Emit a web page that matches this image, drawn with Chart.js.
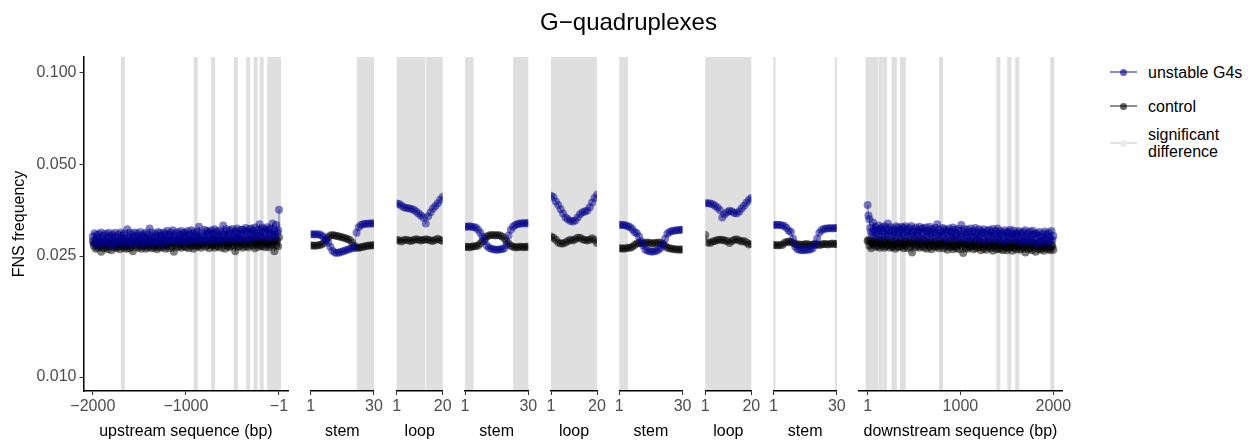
<!DOCTYPE html>
<html>
<head>
<meta charset="utf-8">
<title>G-quadruplexes</title>
<script src="https://cdn.jsdelivr.net/npm/chart.js@4.4.0/dist/chart.umd.min.js"></script>
<style>
  html, body { margin: 0; padding: 0; background: #ffffff; }
  #wrap { position: relative; width: 1257px; height: 445px; overflow: hidden; background: #ffffff;
          font-family: "Liberation Sans", Arial, Helvetica, sans-serif; }
  #wrap canvas { position: absolute; top: 0; }
  #title { position: absolute; left: 0; top: 8px; width: 1257px; text-align: center;
           font-size: 24px; line-height: 28px; color: #000; z-index: 5; }
  .key-line { position: absolute; height: 1.5px; width: 27px; left: 1110px; z-index: 5; }
  .key-dot { position: absolute; width: 7px; height: 7px; border-radius: 50%; left: 1120px; z-index: 6; }
  .key-text { position: absolute; left: 1148px; font-size: 16px; line-height: 17px; color: #000; z-index: 5; white-space: nowrap; }
</style>
</head>
<body>
<div id="wrap">
  <div id="title">G−quadruplexes</div>

  <div class="key-line" style="top:71.25px;background:rgba(0,0,139,0.45)"></div>
  <div class="key-dot" style="top:68.5px;background:rgba(0,0,139,0.62)"></div>
  <div class="key-text" style="top:63.5px">unstable G4s</div>

  <div class="key-line" style="top:105.25px;background:rgba(0,0,0,0.45)"></div>
  <div class="key-dot" style="top:102.5px;background:rgba(0,0,0,0.62)"></div>
  <div class="key-text" style="top:97.5px">control</div>

  <div class="key-line" style="top:142.25px;background:#e2e2e2"></div>
  <div class="key-dot" style="top:139.5px;background:#ebebeb"></div>
  <div class="key-text" style="top:125.5px">significant<br>difference</div>
</div>

<script>
// ---------- positions (bp) ----------
const upstreamPos = [
  -2000,-1990,-1980,-1970,-1960,-1950,-1940,-1930,-1920,-1910,-1900,-1890,-1880,-1870,-1860,-1850,-1840,-1830,-1820,-1810,
  -1800,-1790,-1780,-1770,-1760,-1750,-1740,-1730,-1720,-1710,-1700,-1690,-1680,-1670,-1660,-1650,-1640,-1630,-1620,-1610,
  -1600,-1590,-1580,-1570,-1560,-1550,-1540,-1530,-1520,-1510,-1500,-1490,-1480,-1470,-1460,-1450,-1440,-1430,-1420,-1410,
  -1400,-1390,-1380,-1370,-1360,-1350,-1340,-1330,-1320,-1310,-1300,-1290,-1280,-1270,-1260,-1250,-1240,-1230,-1220,-1210,
  -1200,-1190,-1180,-1170,-1160,-1150,-1140,-1130,-1120,-1110,-1100,-1090,-1080,-1070,-1060,-1050,-1040,-1030,-1020,-1010,
  -1000,-990,-980,-970,-960,-950,-940,-930,-920,-910,-900,-890,-880,-870,-860,-850,-840,-830,-820,-810,
  -800,-790,-780,-770,-760,-750,-740,-730,-720,-710,-700,-690,-680,-670,-660,-650,-640,-630,-620,-610,
  -600,-590,-580,-570,-560,-550,-540,-530,-520,-510,-500,-490,-480,-470,-460,-450,-440,-430,-420,-410,
  -400,-390,-380,-370,-360,-350,-340,-330,-320,-310,-300,-290,-280,-270,-260,-250,-240,-230,-220,-210,
  -200,-190,-180,-170,-160,-150,-140,-130,-120,-110,-100,-90,-80,-70,-60,-50,-40,-30,-20,-10,
  -1];
const downstreamPos = [1,
  10,20,30,40,50,60,70,80,90,100,110,120,130,140,150,160,170,180,190,200,
  210,220,230,240,250,260,270,280,290,300,310,320,330,340,350,360,370,380,390,400,
  410,420,430,440,450,460,470,480,490,500,510,520,530,540,550,560,570,580,590,600,
  610,620,630,640,650,660,670,680,690,700,710,720,730,740,750,760,770,780,790,800,
  810,820,830,840,850,860,870,880,890,900,910,920,930,940,950,960,970,980,990,1000,
  1010,1020,1030,1040,1050,1060,1070,1080,1090,1100,1110,1120,1130,1140,1150,1160,1170,1180,1190,1200,
  1210,1220,1230,1240,1250,1260,1270,1280,1290,1300,1310,1320,1330,1340,1350,1360,1370,1380,1390,1400,
  1410,1420,1430,1440,1450,1460,1470,1480,1490,1500,1510,1520,1530,1540,1550,1560,1570,1580,1590,1600,
  1610,1620,1630,1640,1650,1660,1670,1680,1690,1700,1710,1720,1730,1740,1750,1760,1770,1780,1790,1800,
  1810,1820,1830,1840,1850,1860,1870,1880,1890,1900,1910,1920,1930,1940,1950,1960,1970,1980,1990,2000];
const stemPos = [1,2,3,4,5,6,7,8,9,10,11,12,13,14,15,16,17,18,19,20,21,22,23,24,25,26,27,28,29,30];
const loopPos = [1,2,3,4,5,6,7,8,9,10,11,12,13,14,15,16,17,18,19,20];

// ---------- FNS frequency: flanking sequences ----------
const upstreamUnstable = [
  0.0290,0.0276,0.0297,0.0282,0.0293,0.0272,0.0287,0.0295,0.0279,0.0299,0.0284,0.0274,0.0292,0.0281,0.0296,0.0277,0.0288,0.0298,0.0273,0.0291,
  0.0284,0.0295,0.0272,0.0290,0.0298,0.0279,0.0287,0.0276,0.0294,0.0281,0.0299,0.0283,0.0292,0.0274,0.0296,0.0286,0.0278,0.0306,0.0280,0.0289,
  0.0298,0.0274,0.0294,0.0285,0.0278,0.0299,0.0291,0.0276,0.0296,0.0283,0.0289,0.0300,0.0280,0.0292,0.0273,0.0295,0.0286,0.0298,0.0277,0.0293,
  0.0283,0.0308,0.0280,0.0291,0.0298,0.0276,0.0289,0.0295,0.0285,0.0277,0.0300,0.0282,0.0297,0.0287,0.0292,0.0275,0.0299,0.0284,0.0296,0.0279,
  0.0303,0.0288,0.0295,0.0280,0.0299,0.0283,0.0304,0.0287,0.0290,0.0278,0.0296,0.0300,0.0282,0.0293,0.0285,0.0302,0.0279,0.0297,0.0289,0.0299,
  0.0277,0.0295,0.0302,0.0285,0.0293,0.0282,0.0304,0.0287,0.0299,0.0279,0.0296,0.0290,0.0301,0.0284,0.0312,0.0288,0.0281,0.0297,0.0292,0.0283,
  0.0305,0.0288,0.0302,0.0280,0.0296,0.0300,0.0291,0.0304,0.0284,0.0297,0.0287,0.0306,0.0282,0.0301,0.0293,0.0289,0.0303,0.0281,0.0298,0.0286,
  0.0315,0.0294,0.0301,0.0285,0.0306,0.0292,0.0287,0.0304,0.0297,0.0282,0.0307,0.0290,0.0299,0.0286,0.0302,0.0308,0.0289,0.0296,0.0284,0.0305,
  0.0294,0.0305,0.0285,0.0302,0.0309,0.0290,0.0300,0.0283,0.0306,0.0295,0.0308,0.0288,0.0303,0.0293,0.0310,0.0287,0.0299,0.0305,0.0291,0.0318,
  0.0291,0.0303,0.0309,0.0288,0.0300,0.0306,0.0294,0.0311,0.0286,0.0305,0.0297,0.0308,0.0292,0.0320,0.0295,0.0302,0.0289,0.0316,0.0298,0.0304,
  0.0355];
const upstreamControl = [
  0.0280,0.0270,0.0275,0.0264,0.0277,0.0266,0.0281,0.0269,0.0271,0.0258,0.0275,0.0278,0.0265,0.0273,0.0267,0.0279,0.0263,0.0276,0.0270,0.0277,
  0.0261,0.0274,0.0279,0.0267,0.0272,0.0265,0.0280,0.0268,0.0277,0.0263,0.0275,0.0270,0.0278,0.0266,0.0281,0.0269,0.0264,0.0275,0.0272,0.0265,
  0.0280,0.0268,0.0278,0.0259,0.0274,0.0277,0.0271,0.0280,0.0266,0.0275,0.0268,0.0281,0.0264,0.0278,0.0272,0.0269,0.0279,0.0264,0.0276,0.0267,
  0.0282,0.0271,0.0276,0.0265,0.0280,0.0270,0.0266,0.0278,0.0273,0.0263,0.0280,0.0268,0.0275,0.0266,0.0277,0.0281,0.0268,0.0273,0.0264,0.0279,
  0.0271,0.0279,0.0265,0.0277,0.0281,0.0268,0.0275,0.0258,0.0279,0.0272,0.0281,0.0267,0.0277,0.0270,0.0282,0.0266,0.0274,0.0279,0.0269,0.0283,
  0.0267,0.0276,0.0280,0.0265,0.0274,0.0278,0.0269,0.0281,0.0264,0.0277,0.0272,0.0279,0.0268,0.0282,0.0270,0.0275,0.0266,0.0281,0.0272,0.0277,
  0.0278,0.0268,0.0282,0.0272,0.0280,0.0265,0.0275,0.0281,0.0270,0.0284,0.0273,0.0266,0.0279,0.0271,0.0282,0.0268,0.0276,0.0283,0.0266,0.0278,
  0.0273,0.0280,0.0264,0.0277,0.0282,0.0269,0.0275,0.0267,0.0280,0.0270,0.0283,0.0272,0.0278,0.0259,0.0281,0.0274,0.0268,0.0284,0.0270,0.0276,
  0.0283,0.0266,0.0280,0.0274,0.0269,0.0283,0.0278,0.0267,0.0281,0.0272,0.0276,0.0284,0.0270,0.0279,0.0265,0.0281,0.0274,0.0283,0.0268,0.0279,
  0.0271,0.0285,0.0269,0.0277,0.0282,0.0267,0.0276,0.0280,0.0273,0.0267,0.0283,0.0271,0.0281,0.0274,0.0278,0.0259,0.0283,0.0272,0.0281,0.0269,
  0.0288];
const downstreamUnstable = [0.0368,
  0.0340,0.0330,0.0309,0.0300,0.0293,0.0322,0.0306,0.0291,0.0311,0.0298,0.0304,0.0315,0.0295,0.0307,0.0288,0.0310,0.0301,0.0313,0.0292,0.0308,
  0.0296,0.0320,0.0293,0.0304,0.0311,0.0289,0.0302,0.0308,0.0298,0.0290,0.0313,0.0295,0.0310,0.0300,0.0305,0.0288,0.0312,0.0297,0.0309,0.0292,
  0.0313,0.0298,0.0305,0.0290,0.0309,0.0293,0.0314,0.0297,0.0300,0.0288,0.0306,0.0310,0.0292,0.0303,0.0295,0.0312,0.0289,0.0307,0.0299,0.0309,
  0.0285,0.0303,0.0310,0.0293,0.0301,0.0290,0.0312,0.0295,0.0307,0.0287,0.0304,0.0298,0.0309,0.0292,0.0318,0.0296,0.0289,0.0305,0.0300,0.0291,
  0.0309,0.0292,0.0306,0.0284,0.0300,0.0304,0.0295,0.0308,0.0288,0.0301,0.0291,0.0310,0.0286,0.0305,0.0297,0.0293,0.0307,0.0285,0.0302,0.0290,
  0.0316,0.0295,0.0302,0.0286,0.0307,0.0293,0.0288,0.0305,0.0298,0.0283,0.0308,0.0291,0.0300,0.0287,0.0303,0.0309,0.0290,0.0297,0.0285,0.0306,
  0.0291,0.0302,0.0282,0.0299,0.0306,0.0287,0.0297,0.0280,0.0303,0.0292,0.0305,0.0285,0.0300,0.0290,0.0307,0.0284,0.0296,0.0302,0.0288,0.0308,
  0.0284,0.0296,0.0302,0.0281,0.0293,0.0299,0.0287,0.0304,0.0279,0.0298,0.0290,0.0301,0.0285,0.0305,0.0288,0.0295,0.0282,0.0303,0.0291,0.0297,
  0.0295,0.0281,0.0302,0.0287,0.0298,0.0277,0.0292,0.0300,0.0284,0.0304,0.0289,0.0279,0.0297,0.0286,0.0301,0.0282,0.0293,0.0303,0.0278,0.0296,
  0.0286,0.0297,0.0274,0.0292,0.0300,0.0281,0.0289,0.0278,0.0296,0.0283,0.0301,0.0285,0.0294,0.0276,0.0298,0.0288,0.0280,0.0302,0.0282,0.0291];
const downstreamControl = [0.0280,
  0.0282,0.0270,0.0280,0.0265,0.0276,0.0279,0.0273,0.0282,0.0268,0.0277,0.0270,0.0283,0.0266,0.0280,0.0274,0.0271,0.0281,0.0266,0.0278,0.0269,
  0.0283,0.0272,0.0277,0.0266,0.0281,0.0271,0.0267,0.0279,0.0274,0.0264,0.0281,0.0269,0.0276,0.0267,0.0278,0.0282,0.0269,0.0274,0.0265,0.0280,
  0.0271,0.0279,0.0265,0.0277,0.0281,0.0268,0.0275,0.0257,0.0279,0.0272,0.0281,0.0267,0.0277,0.0270,0.0282,0.0266,0.0274,0.0279,0.0269,0.0283,
  0.0266,0.0275,0.0279,0.0264,0.0273,0.0277,0.0268,0.0280,0.0263,0.0276,0.0271,0.0278,0.0267,0.0281,0.0269,0.0274,0.0265,0.0280,0.0271,0.0276,
  0.0275,0.0265,0.0279,0.0269,0.0277,0.0262,0.0272,0.0278,0.0267,0.0281,0.0270,0.0263,0.0276,0.0268,0.0279,0.0265,0.0273,0.0280,0.0263,0.0275,
  0.0270,0.0277,0.0256,0.0274,0.0279,0.0266,0.0272,0.0264,0.0277,0.0267,0.0280,0.0269,0.0275,0.0263,0.0278,0.0271,0.0265,0.0281,0.0267,0.0273,
  0.0278,0.0261,0.0275,0.0269,0.0264,0.0278,0.0273,0.0262,0.0276,0.0267,0.0271,0.0279,0.0265,0.0274,0.0260,0.0276,0.0269,0.0278,0.0263,0.0274,
  0.0265,0.0279,0.0263,0.0271,0.0276,0.0261,0.0270,0.0274,0.0267,0.0261,0.0277,0.0265,0.0275,0.0268,0.0272,0.0260,0.0277,0.0266,0.0275,0.0263,
  0.0278,0.0268,0.0273,0.0262,0.0275,0.0264,0.0279,0.0267,0.0269,0.0257,0.0273,0.0276,0.0263,0.0271,0.0265,0.0277,0.0261,0.0274,0.0268,0.0275,
  0.0258,0.0271,0.0276,0.0264,0.0269,0.0262,0.0277,0.0265,0.0274,0.0260,0.0272,0.0267,0.0275,0.0263,0.0278,0.0266,0.0261,0.0272,0.0269,0.0262];

// ---------- FNS frequency: stems and loops ----------
const stem1Unstable = [0.0295,0.0295,0.0294,0.0295,0.0294,0.0292,0.0288,0.0283,0.0277,0.0268,
  0.0260,0.0257,0.0256,0.0257,0.0258,0.0259,0.0261,0.0262,0.0264,0.0265,
  0.0266,0.0298,0.0311,0.0316,0.0318,0.0319,0.0319,0.0320,0.0320,0.0320];
const stem1Control = [0.0271,0.0271,0.0270,0.0271,0.0272,0.0273,0.0276,0.0282,0.0288,0.0292,
  0.0293,0.0292,0.0291,0.0290,0.0289,0.0287,0.0286,0.0284,0.0282,0.0277,
  0.0270,0.0266,0.0266,0.0267,0.0268,0.0269,0.0270,0.0271,0.0271,0.0272];
const loop1Unstable = [0.0372,0.0371,0.0366,0.0362,0.0360,0.0359,0.0357,0.0355,0.0350,0.0345,
  0.0340,0.0335,0.0320,0.0338,0.0348,0.0358,0.0365,0.0373,0.0383,0.0392];
const loop1Control = [0.0283,0.0281,0.0279,0.0282,0.0283,0.0281,0.0280,0.0282,0.0284,0.0283,
  0.0281,0.0282,0.0284,0.0283,0.0281,0.0280,0.0283,0.0285,0.0282,0.0280];
const stem2Unstable = [0.0312,0.0312,0.0313,0.0312,0.0311,0.0310,0.0305,0.0298,0.0290,0.0280,
  0.0270,0.0266,0.0264,0.0263,0.0262,0.0262,0.0263,0.0263,0.0265,0.0272,
  0.0292,0.0305,0.0312,0.0316,0.0318,0.0320,0.0320,0.0321,0.0320,0.0321];
const stem2Control = [0.0268,0.0268,0.0267,0.0268,0.0269,0.0269,0.0271,0.0275,0.0280,0.0285,
  0.0290,0.0292,0.0293,0.0293,0.0292,0.0293,0.0292,0.0290,0.0286,0.0280,
  0.0275,0.0270,0.0268,0.0267,0.0267,0.0268,0.0268,0.0267,0.0268,0.0268];
const loop2Unstable = [0.0395,0.0390,0.0378,0.0368,0.0356,0.0345,0.0335,0.0330,0.0326,0.0325,
  0.0327,0.0335,0.0343,0.0348,0.0350,0.0353,0.0362,0.0375,0.0388,0.0398];
const loop2Control = [0.0290,0.0287,0.0283,0.0277,0.0275,0.0275,0.0277,0.0280,0.0283,0.0281,
  0.0284,0.0287,0.0287,0.0284,0.0282,0.0281,0.0283,0.0286,0.0282,0.0276];
const stem3Unstable = [0.0316,0.0317,0.0316,0.0315,0.0313,0.0311,0.0306,0.0300,0.0297,0.0290,
  0.0280,0.0270,0.0262,0.0260,0.0259,0.0258,0.0259,0.0260,0.0262,0.0266,
  0.0272,0.0285,0.0296,0.0300,0.0302,0.0303,0.0304,0.0304,0.0305,0.0305];
const stem3Control = [0.0265,0.0265,0.0264,0.0265,0.0266,0.0266,0.0268,0.0272,0.0275,0.0276,
  0.0276,0.0275,0.0276,0.0277,0.0276,0.0275,0.0276,0.0276,0.0277,0.0276,
  0.0274,0.0270,0.0266,0.0265,0.0264,0.0263,0.0263,0.0262,0.0263,0.0262];
const loop3Unstable = [0.0373,0.0373,0.0372,0.0370,0.0366,0.0361,0.0354,0.0335,0.0343,0.0348,
  0.0352,0.0350,0.0346,0.0345,0.0350,0.0358,0.0366,0.0374,0.0382,0.0388];
const loop3Control = [0.0293,0.0277,0.0276,0.0279,0.0280,0.0282,0.0283,0.0283,0.0281,0.0280,
  0.0276,0.0280,0.0283,0.0284,0.0281,0.0279,0.0280,0.0277,0.0273,0.0274];
const stem4Unstable = [0.0316,0.0316,0.0317,0.0316,0.0315,0.0314,0.0309,0.0303,0.0300,0.0285,
  0.0268,0.0263,0.0262,0.0261,0.0261,0.0262,0.0262,0.0263,0.0265,0.0272,
  0.0285,0.0298,0.0304,0.0307,0.0308,0.0308,0.0309,0.0308,0.0309,0.0309];
const stem4Control = [0.0272,0.0272,0.0271,0.0272,0.0272,0.0276,0.0278,0.0279,0.0278,0.0276,
  0.0274,0.0273,0.0273,0.0272,0.0273,0.0274,0.0273,0.0272,0.0273,0.0274,
  0.0273,0.0272,0.0273,0.0274,0.0274,0.0273,0.0274,0.0275,0.0274,0.0274];

// ---------- positions with a significant difference (first, last) ----------
const upstreamSig = [[-1677,-1677],[-895,-895],[-708,-708],[-464,-464],[-332,-332],[-252,-252],[-187,-187],[-106,-1]];
const stem1Sig = [[23,30]];
const loop1Sig = [[1,12],[14,20]];
const stem2Sig = [[1,4],[24,30]];
const loop2Sig = [[1,20]];
const stem3Sig = [[1,4]];
const loop3Sig = [[1,20]];
const stem4Sig = [[1,1],[30,30]];
const downstreamSig = [[1,95],[142,142],[188,188],[280,295],[370,390],[791,791],[1408,1408],[1526,1526],[1612,1612],[1989,1989]];

// ---------- tick labels ----------
const upstreamTicks = [-2000, -1000, -1];
const upstreamTickLabels = ['\u22122000', '\u22121000', '\u22121'];
const downstreamTicks = [1, 1000, 2000];
const downstreamTickLabels = ['1', '1000', '2000'];
const stemTicks = [1, 30];
const stemTickLabels = ['1', '30'];
const loopTicks = [1, 20];
const loopTickLabels = ['1', '20'];
const yTicks = [0.010, 0.025, 0.050, 0.100];
const yTickLabels = ['0.010', '0.025', '0.050', '0.100'];

// ---------- look ----------
const FONT = '"Liberation Sans", Arial, Helvetica, sans-serif';
Chart.defaults.font.family = FONT;
const BLUE = 'rgba(0,0,139,0.5)';
const BLACK = 'rgba(0,0,0,0.5)';
const BAND = '#dfdfdf';
const BAND_HALF = 2;
const Y_MIN = 0.008994, Y_MAX = 0.11288;
const PLOT_TOP = 57, XAXIS_H = 54, H = 445, SIDE = 25;

const panels = [
  { left: 83.5, width: 204.8, min: -2099.95, max: 98.95, ticks: upstreamTicks, labels: upstreamTickLabels,
    title: 'upstream sequence (bp)', x: upstreamPos, unstable: upstreamUnstable, control: upstreamControl, sig: upstreamSig, yAxis: true },
  { left: 310.7, width: 63.3, min: 1, max: 30, ticks: stemTicks, labels: stemTickLabels, title: 'stem',
    x: stemPos, unstable: stem1Unstable, control: stem1Control, sig: stem1Sig },
  { left: 396.7, width: 46, min: 1, max: 20, ticks: loopTicks, labels: loopTickLabels, title: 'loop',
    x: loopPos, unstable: loop1Unstable, control: loop1Control, sig: loop1Sig },
  { left: 465.0, width: 63.3, min: 1, max: 30, ticks: stemTicks, labels: stemTickLabels, title: 'stem',
    x: stemPos, unstable: stem2Unstable, control: stem2Control, sig: stem2Sig },
  { left: 551.0, width: 46, min: 1, max: 20, ticks: loopTicks, labels: loopTickLabels, title: 'loop',
    x: loopPos, unstable: loop2Unstable, control: loop2Control, sig: loop2Sig },
  { left: 619.3, width: 63.3, min: 1, max: 30, ticks: stemTicks, labels: stemTickLabels, title: 'stem',
    x: stemPos, unstable: stem3Unstable, control: stem3Control, sig: stem3Sig },
  { left: 705.3, width: 46, min: 1, max: 20, ticks: loopTicks, labels: loopTickLabels, title: 'loop',
    x: loopPos, unstable: loop3Unstable, control: loop3Control, sig: loop3Sig },
  { left: 773.5, width: 63.3, min: 1, max: 30, ticks: stemTicks, labels: stemTickLabels, title: 'stem',
    x: stemPos, unstable: stem4Unstable, control: stem4Control, sig: stem4Sig },
  { left: 858.3, width: 204.3, min: -98.95, max: 2099.95, ticks: downstreamTicks, labels: downstreamTickLabels,
    title: 'downstream sequence (bp)', x: downstreamPos, unstable: downstreamUnstable, control: downstreamControl, sig: downstreamSig }
];

// grey bands behind the points wherever the two groups differ significantly
const sigBands = {
  id: 'sigBands',
  beforeDatasetsDraw(chart, args, opts) {
    const { ctx, chartArea: a, scales: { x } } = chart;
    ctx.save();
    ctx.beginPath();
    ctx.rect(a.left, a.top, a.right - a.left, a.bottom - a.top);
    ctx.clip();
    ctx.fillStyle = BAND;
    for (const [first, last] of opts.ranges) {
      const x1 = x.getPixelForValue(first) - BAND_HALF;
      const x2 = x.getPixelForValue(last) + BAND_HALF;
      ctx.fillRect(x1, a.top, x2 - x1, a.bottom - a.top);
    }
    ctx.restore();
  }
};

function points(xs, ys) {
  return xs.map((v, i) => ({ x: v, y: ys[i] }));
}

function series(label, xs, ys, colour, order) {
  return {
    label, data: points(xs, ys), order,
    borderColor: colour, borderWidth: 1, backgroundColor: colour,
    pointBackgroundColor: colour, pointBorderWidth: 0, pointRadius: 4,
    tension: 0, clip: 0
  };
}

const wrap = document.getElementById('wrap');

panels.forEach(p => {
  const canvasLeft = p.yAxis ? 0 : Math.floor(p.left - SIDE);
  const padLeft = p.yAxis ? 0 : p.left - canvasLeft;
  const cw = Math.ceil(p.left + p.width + SIDE) - canvasLeft;
  const padRight = cw - (p.left - canvasLeft) - p.width;

  const cv = document.createElement('canvas');
  cv.width = cw; cv.height = H;
  cv.style.left = canvasLeft + 'px';
  cv.style.width = cw + 'px';
  cv.style.height = H + 'px';
  wrap.appendChild(cv);

  new Chart(cv, {
    type: 'line',
    data: {
      datasets: [
        series('unstable G4s', p.x, p.unstable, BLUE, 0),
        series('control', p.x, p.control, BLACK, 1)
      ]
    },
    options: {
      responsive: false,
      animation: false,
      devicePixelRatio: 1,
      events: [],
      layout: { padding: { left: padLeft, right: padRight, top: PLOT_TOP, bottom: 0 } },
      plugins: {
        legend: { display: false },
        tooltip: { enabled: false },
        sigBands: { ranges: p.sig }
      },
      scales: {
        x: {
          type: 'linear', min: p.min, max: p.max,
          afterBuildTicks: s => { s.ticks = p.ticks.map(v => ({ value: v })); },
          afterFit: s => { s.height = XAXIS_H; },
          ticks: {
            autoSkip: false, maxRotation: 0, minRotation: 0, padding: 2,
            color: '#4d4d4d', font: { size: 16 },
            callback: v => p.labels[p.ticks.indexOf(v)]
          },
          grid: { display: true, drawOnChartArea: false, drawTicks: true, tickLength: 4, color: '#333333', lineWidth: 1 },
          border: { display: true, color: '#000000', width: 1.5, z: 1 },
          title: { display: true, text: p.title, color: '#000000', font: { size: 16 }, padding: { top: 0, bottom: 4 } }
        },
        y: {
          type: 'logarithmic', min: Y_MIN, max: Y_MAX,
          display: !!p.yAxis,
          afterBuildTicks: s => { s.ticks = yTicks.map(v => ({ value: v })); },
          afterFit: s => { if (p.yAxis) { s.width = p.left; } },
          ticks: {
            autoSkip: false, padding: 3, color: '#4d4d4d', font: { size: 16 },
            callback: v => yTickLabels[yTicks.indexOf(v)]
          },
          grid: { display: true, drawOnChartArea: false, drawTicks: true, tickLength: 4, color: '#333333', lineWidth: 1 },
          border: { display: true, color: '#000000', width: 1.5, z: 1 },
          title: { display: true, text: 'FNS frequency', color: '#000000', font: { size: 16 }, padding: { top: 10, bottom: 0 } }
        }
      }
    },
    plugins: [sigBands]
  });
});
</script>
</body>
</html>
